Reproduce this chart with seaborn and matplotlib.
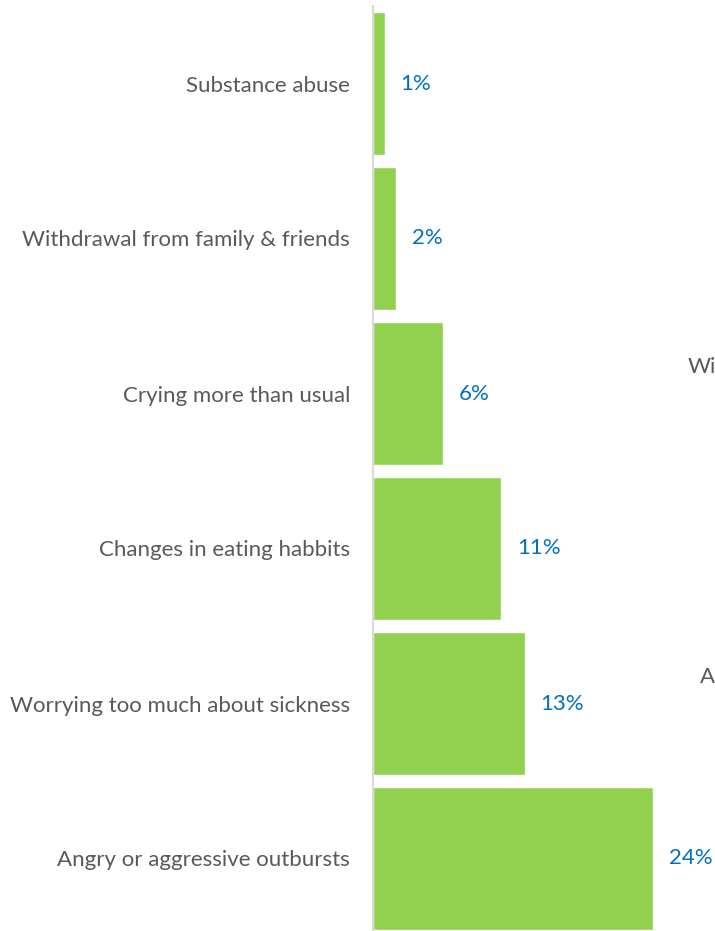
import matplotlib
matplotlib.use("Agg")
import matplotlib.pyplot as plt
import seaborn as sns
import pandas as pd

categories = [
    "Substance abuse",
    "Withdrawal from family & friends",
    "Crying more than usual",
    "Changes in eating habbits",
    "Worrying too much about sickness",
    "Angry or aggressive outbursts",
]
values = [1, 2, 6, 11, 13, 24]
value_labels = ["1%", "2%", "6%", "11%", "13%", "24%"]

sns.set_theme(style="white")
plt.rcParams["font.family"] = ["Lato", "DejaVu Sans"]

GREEN = "#92D050"
GREY_TEXT = "#595959"
BLUE = "#0070C0"
FS = 16

df = pd.DataFrame({"category": categories, "value": values})

fig = plt.figure(figsize=(7.15, 9.31), dpi=100)
ax = fig.add_axes([373 / 715, -5 / 931, 342 / 715, 930 / 931])

sns.barplot(data=df, x="value", y="category", orient="h", color=GREEN,
            width=0.92, saturation=1, ax=ax)

ax.set_xlim(0, 342 / 11.67)
ax.set_ylim(5.5, -0.5)
ax.set_xlabel("")
ax.set_ylabel("")
ax.set_xticks([])
ax.tick_params(axis="y", length=0, pad=16.5, labelsize=FS, labelcolor=GREY_TEXT)

for side in ["top", "right", "bottom"]:
    ax.spines[side].set_visible(False)
ax.spines["left"].set_color("#D9D9D9")
ax.spines["left"].set_linewidth(1.5)

ax.bar_label(ax.containers[0], labels=value_labels, padding=11.5,
             color=BLUE, fontsize=FS)

# neighbouring panel text running off the right edge
fig.text(688 / 715, 1 - 367 / 931, "Wi", ha="left", va="center",
         color=GREY_TEXT, fontsize=FS)
fig.text(700 / 715, 1 - 677 / 931, "A", ha="left", va="center",
         color=GREY_TEXT, fontsize=FS)

fig.savefig("out.png", dpi=100)
